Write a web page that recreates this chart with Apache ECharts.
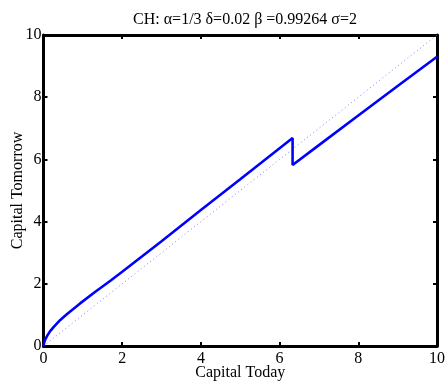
<!DOCTYPE html>
<html>
<head>
<meta charset="utf-8">
<script src="https://cdn.jsdelivr.net/npm/echarts@6/dist/echarts.min.js"></script>
<style>
  html, body { margin: 0; padding: 0; background: #fff; }
  #chart { width: 448px; height: 385px; }
</style>
</head>
<body>
<div id="chart"></div>
<script>
// Capital policy function k' = g(k), with the 45-degree reference line
const capitalToday    = [0, 0.02, 0.05, 0.1, 0.165, 0.25, 0.42, 0.6, 0.93, 1.3, 1.7, 2.0, 2.5, 3.0, 4.0, 5.0, 6.0, 6.33, 6.33, 7.0, 8.0, 9.0, 10.0];
const capitalTomorrow = [0, 0.12, 0.22, 0.34, 0.47, 0.60, 0.83, 1.03, 1.37, 1.73, 2.10, 2.385, 2.875, 3.37, 4.37, 5.36, 6.36, 6.69, 5.82, 6.46, 7.41, 8.36, 9.30];
const diagonalX = [0, 10];
const diagonalY = [0, 10];
const tickValues = [0, 2, 4, 6, 8, 10];

const policyData = capitalToday.map((k, i) => [k, capitalTomorrow[i]]);
const diagonalData = diagonalX.map((k, i) => [k, diagonalY[i]]);

const serif = '"Liberation Serif", "DejaVu Serif", serif';
const frameLine = { show: true, onZero: false, lineStyle: { color: '#000', width: 3 } };
const innerTicks = { show: true, inside: true, length: 4, lineStyle: { color: '#000', width: 2 } };
const tickLabel = {
  color: '#000', fontFamily: serif, fontSize: 16,
  customValues: tickValues
};

const chart = echarts.init(document.getElementById('chart'), null, { renderer: 'canvas' });
chart.setOption({
  animation: false,
  backgroundColor: '#fff',
  title: {
    text: 'CH: \u03b1=1/3 \u03b4=0.02 \u03b2 =0.99264 \u03c3=2',
    left: 240, top: 7, textAlign: 'center',
    textStyle: { fontFamily: serif, fontSize: 16, fontWeight: 'normal', color: '#000' }
  },
  grid: { left: 43.5, right: 11, top: 35, bottom: 39, outerBoundsMode: 'none', containLabel: false },
  xAxis: [
    {
      type: 'value', min: 0, max: 10, interval: 2, position: 'bottom',
      name: 'Capital Today', nameLocation: 'middle', nameGap: 19, nameMoveOverlap: false,
      nameTextStyle: { fontFamily: serif, fontSize: 16, color: '#000', verticalAlign: 'top' },
      axisLine: frameLine, axisTick: innerTicks,
      axisLabel: Object.assign({}, tickLabel, { margin: 5 }),
      splitLine: { show: false }
    },
    {
      type: 'value', min: 0, max: 10, interval: 2, position: 'top',
      axisLine: frameLine, axisTick: innerTicks,
      axisLabel: { show: false }, splitLine: { show: false }
    }
  ],
  yAxis: [
    {
      type: 'value', min: 0, max: 10, interval: 2, position: 'left',
      name: 'Capital Tomorrow', nameLocation: 'middle', nameGap: 18, nameMoveOverlap: false,
      nameTextStyle: { fontFamily: serif, fontSize: 16, color: '#000' },
      axisLine: frameLine, axisTick: innerTicks,
      axisLabel: Object.assign({}, tickLabel, { margin: 2 }),
      splitLine: { show: false }
    },
    {
      type: 'value', min: 0, max: 10, interval: 2, position: 'right',
      axisLine: frameLine, axisTick: innerTicks,
      axisLabel: { show: false }, splitLine: { show: false }
    }
  ],
  series: [
    {
      type: 'line', data: diagonalData, symbol: 'none',
      lineStyle: { color: '#7f7fff', width: 1, type: [1, 3] },
      z: 2
    },
    {
      type: 'line', data: policyData, symbol: 'none',
      lineStyle: { color: '#0000ff', width: 2.6 },
      z: 3
    }
  ]
});
</script>
</body>
</html>
